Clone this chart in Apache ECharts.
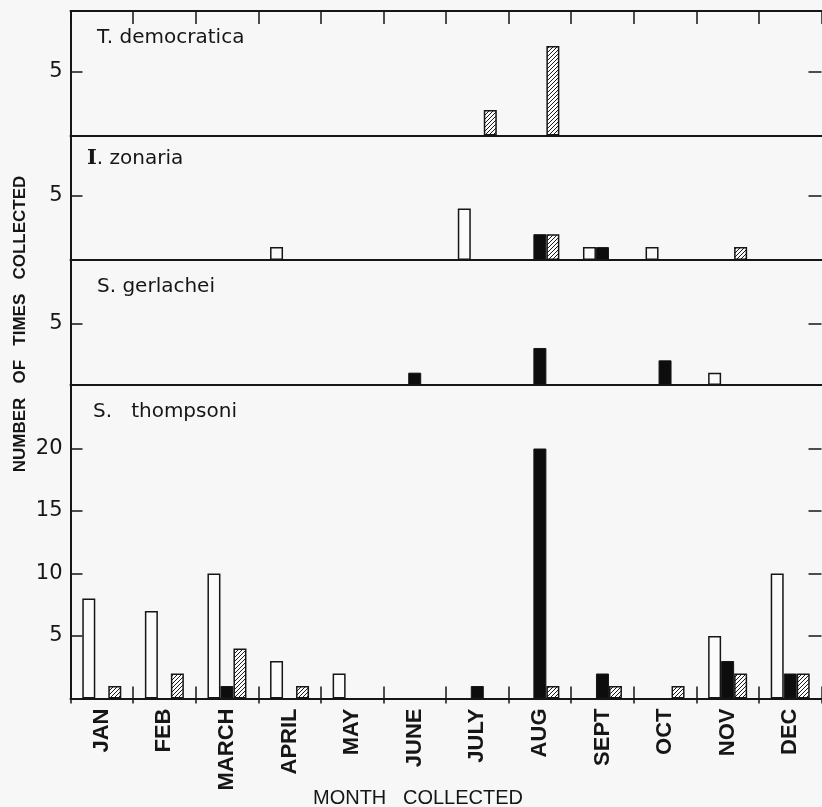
<!DOCTYPE html>
<html>
<head>
<meta charset="utf-8">
<script src="https://cdn.jsdelivr.net/npm/echarts@6/dist/echarts.min.js"></script>
<style>
  html, body { margin: 0; padding: 0; background: #f7f7f7; }
  #chart { width: 822px; height: 807px; }
</style>
</head>
<body>
<div id="chart"></div>
<script>
// Months along the shared horizontal axis
const months = ['JAN', 'FEB', 'MARCH', 'APRIL', 'MAY', 'JUNE', 'JULY', 'AUG', 'SEPT', 'OCT', 'NOV', 'DEC'];

// T. democratica
const demoOpen    = [0, 0, 0, 0, 0, 0, 0, 0, 0, 0, 0, 0];
const demoSolid   = [0, 0, 0, 0, 0, 0, 0, 0, 0, 0, 0, 0];
const demoHatched = [0, 0, 0, 0, 0, 0, 2, 7, 0, 0, 0, 0];

// I. zonaria
const zonOpen    = [0, 0, 0, 1, 0, 0, 4, 0, 1, 1, 0, 0];
const zonSolid   = [0, 0, 0, 0, 0, 0, 0, 2, 1, 0, 0, 0];
const zonHatched = [0, 0, 0, 0, 0, 0, 0, 2, 0, 0, 1, 0];

// S. gerlachei
const gerOpen    = [0, 0, 0, 0, 0, 0, 0, 0, 0, 0, 1, 0];
const gerSolid   = [0, 0, 0, 0, 0, 1, 0, 3, 0, 2, 0, 0];
const gerHatched = [0, 0, 0, 0, 0, 0, 0, 0, 0, 0, 0, 0];

// S. thompsoni
const thoOpen    = [8, 7, 10, 3, 2, 0, 0, 0, 0, 0, 5, 10];
const thoSolid   = [0, 0, 1, 0, 0, 0, 1, 20, 2, 0, 3, 2];
const thoHatched = [1, 2, 4, 1, 0, 0, 0, 1, 1, 1, 2, 2];

// Tick labels on each panel's count axis
const smallTicks = [5];
const largeTicks = [5, 10, 15, 20];

const panelNames = ['T. democratica', 'I. zonaria', 'S. gerlachei', 'S.   thompsoni'];

// ---- layout -------------------------------------------------------------
const INK = '#161616';
const PAPER = '#f7f7f7';
const LEFT = 70.5, RIGHT = 0.5;
const panels = [
  { top: 11,    height: 124.5, max: 9.73,  ticks: smallTicks, open: demoOpen, solid: demoSolid, hatched: demoHatched },
  { top: 135.5, height: 124.5, max: 9.65,  ticks: smallTicks, open: zonOpen,  solid: zonSolid,  hatched: zonHatched },
  { top: 260,   height: 125,   max: 10.13, ticks: smallTicks, open: gerOpen,  solid: gerSolid,  hatched: gerHatched },
  { top: 385,   height: 313.5, max: 25.08, ticks: largeTicks, open: thoOpen,  solid: thoSolid,  hatched: thoHatched }
];

// Diagonal hatching used for the third bar of each month
function hatchCanvas() {
  const s = 4;
  const c = document.createElement('canvas');
  c.width = s; c.height = s;
  const g = c.getContext('2d');
  g.fillStyle = '#fbfbfb';
  g.fillRect(0, 0, s, s);
  g.strokeStyle = '#1a1a1a';
  g.lineWidth = 1;
  g.beginPath();
  g.moveTo(0, s); g.lineTo(s, 0);
  g.moveTo(-1, 1); g.lineTo(1, -1);
  g.moveTo(s - 1, s + 1); g.lineTo(s + 1, s - 1);
  g.stroke();
  return c;
}
const hatchFill = { image: hatchCanvas(), repeat: 'repeat' };

const asBars = arr => arr.map(v => (v === 0 ? '-' : v));

const grid = [];
const xAxis = [];
const yAxis = [];
const series = [];

panels.forEach((p, i) => {
  const last = i === panels.length - 1;
  grid.push({ left: LEFT, right: RIGHT, top: p.top, height: p.height, containLabel: false });

  // bottom axis of the panel (the separating rule)
  xAxis.push({
    type: 'category', gridIndex: i, data: months, position: 'bottom',
    boundaryGap: true,
    axisLine: { show: true, onZero: false, lineStyle: { color: INK, width: 2 } },
    axisTick: { show: last, inside: true, length: 12, lineStyle: { color: INK, width: 1.5 } },
    axisLabel: {
      show: last, rotate: 90, margin: 10, color: INK,
      fontFamily: 'Liberation Sans', fontWeight: 'bold', fontSize: 22
    },
    splitLine: { show: false }
  });

  // left count axis
  yAxis.push({
    type: 'value', gridIndex: i, min: 0, max: p.max, position: 'left',
    axisLine: { show: true, lineStyle: { color: INK, width: 2 } },
    axisTick: { show: true, inside: true, length: 12, customValues: p.ticks, lineStyle: { color: INK, width: 1.5 } },
    axisLabel: {
      show: true, customValues: p.ticks, margin: 8, color: INK,
      fontFamily: 'DejaVu Sans', fontSize: 21
    },
    splitLine: { show: false }
  });

  // right-hand ticks
  yAxis.push({
    type: 'value', gridIndex: i, min: 0, max: p.max, position: 'right',
    axisLine: { show: false },
    axisTick: { show: true, inside: true, length: 13, customValues: p.ticks, lineStyle: { color: INK, width: 1.5 } },
    axisLabel: { show: false },
    splitLine: { show: false }
  });

  const xi = xAxis.length - 1;
  const yi = yAxis.length - 2;
  const common = { type: 'bar', xAxisIndex: xi, yAxisIndex: yi, barWidth: 13, barGap: '0%', barCategoryGap: '20%', animation: false, silent: true };
  series.push(Object.assign({}, common, {
    name: 'open' + i, data: asBars(p.open),
    itemStyle: { color: '#fbfbfb', borderColor: INK, borderWidth: 1.5 }
  }));
  series.push(Object.assign({}, common, {
    name: 'solid' + i, data: asBars(p.solid),
    itemStyle: { color: '#0d0d0d', borderColor: INK, borderWidth: 1 }
  }));
  series.push(Object.assign({}, common, {
    name: 'hatched' + i, data: asBars(p.hatched),
    itemStyle: { color: hatchFill, borderColor: INK, borderWidth: 1.5 }
  }));
});

// top frame of the first panel with its month ticks
xAxis.push({
  type: 'category', gridIndex: 0, data: months, position: 'top', boundaryGap: true,
  axisLine: { show: true, onZero: false, lineStyle: { color: INK, width: 2 } },
  axisTick: { show: true, inside: true, length: 13, lineStyle: { color: INK, width: 1.5 } },
  axisLabel: { show: false }, splitLine: { show: false }
});
// short outward month ticks under the last panel
xAxis.push({
  type: 'category', gridIndex: 3, data: months, position: 'bottom', boundaryGap: true,
  axisLine: { show: false, onZero: false },
  axisTick: { show: true, inside: false, length: 5, lineStyle: { color: INK, width: 1.5 } },
  axisLabel: { show: false }, splitLine: { show: false }
});

const titleFont = '20px "DejaVu Sans", sans-serif';
const graphic = [
  { type: 'text', x: 97, y: 38, style: { text: panelNames[0], font: titleFont, fill: INK, textVerticalAlign: 'middle' } },
  {
    type: 'text', x: 87, y: 159,
    style: {
      text: '{s|I}{r|. zonaria}', fill: INK, textVerticalAlign: 'middle',
      rich: {
        s: { fontFamily: 'DejaVu Serif', fontWeight: 'bold', fontSize: 21, fill: INK },
        r: { fontFamily: 'DejaVu Sans', fontSize: 20, fill: INK }
      }
    }
  },
  { type: 'text', x: 97, y: 287, style: { text: panelNames[2], font: titleFont, fill: INK, textVerticalAlign: 'middle' } },
  { type: 'text', x: 93, y: 412, style: { text: panelNames[3], font: titleFont, fill: INK, textVerticalAlign: 'middle' } },
  {
    type: 'text', x: 20, y: 324, rotation: Math.PI / 2,
    style: {
      text: 'NUMBER   OF   TIMES   COLLECTED', font: 'bold 17px "Liberation Sans", sans-serif',
      fill: INK, textAlign: 'center', textVerticalAlign: 'middle'
    }
  },
  {
    type: 'text', x: 418, y: 798,
    style: {
      text: 'MONTH   COLLECTED', font: '20px "Liberation Sans", sans-serif',
      fill: INK, textAlign: 'center', textVerticalAlign: 'middle'
    }
  }
];

const chart = echarts.init(document.getElementById('chart'), null, { renderer: 'canvas' });
chart.setOption({
  backgroundColor: PAPER,
  animation: false,
  grid, xAxis, yAxis, series, graphic
});
</script>
</body>
</html>
